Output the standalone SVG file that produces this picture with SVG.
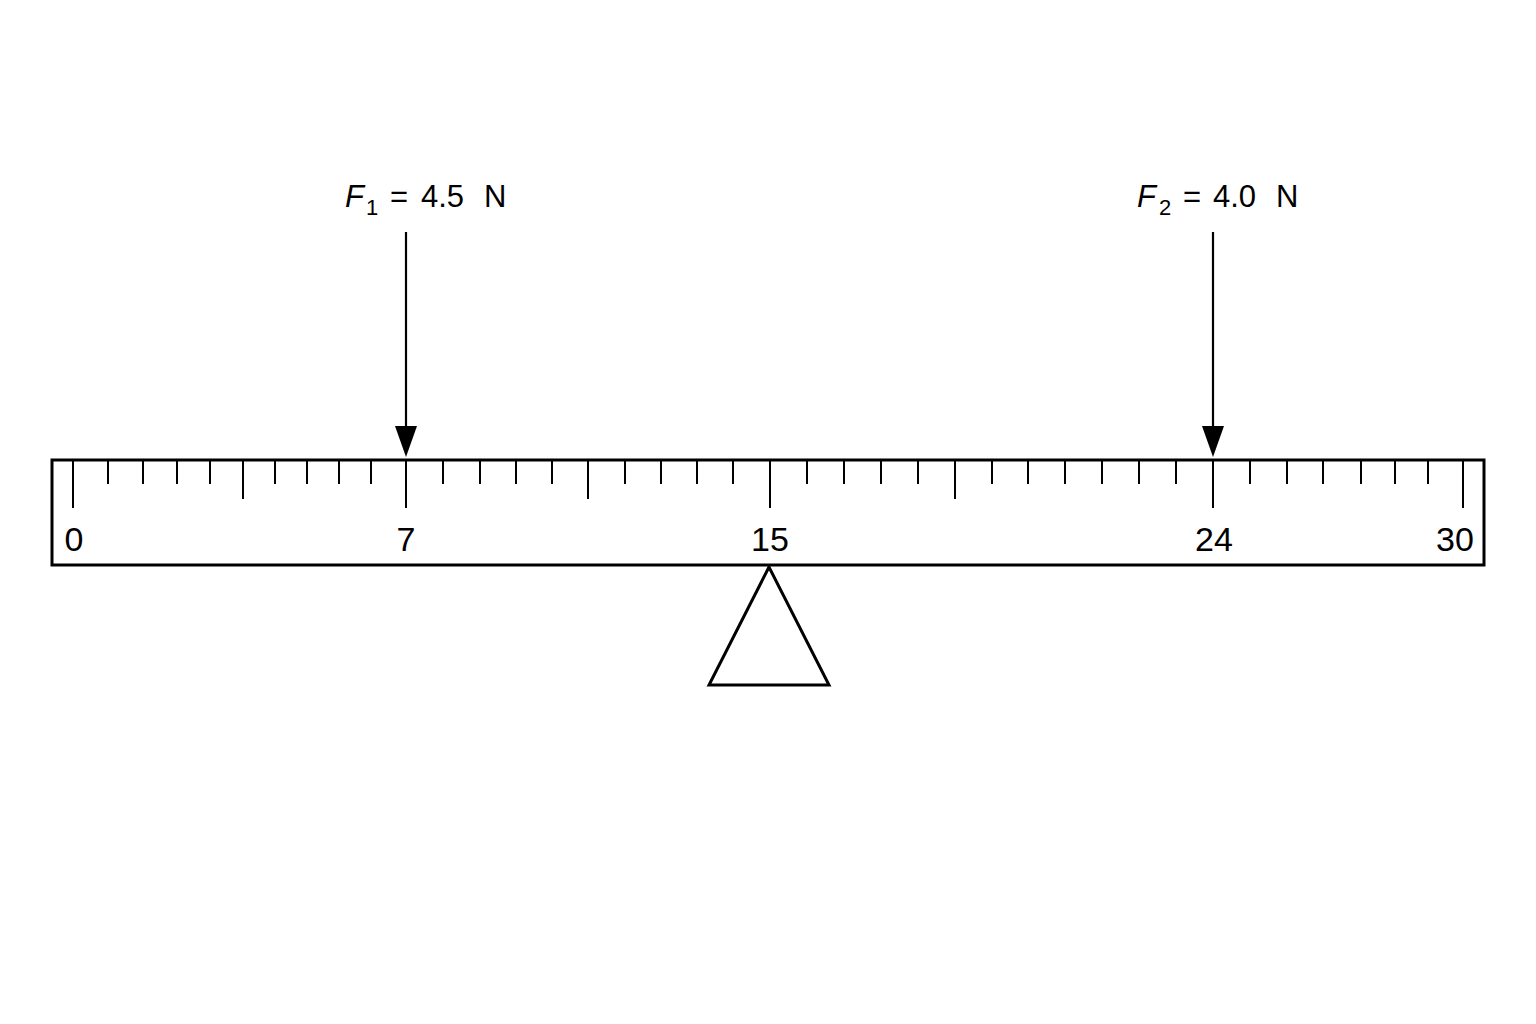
<svg xmlns="http://www.w3.org/2000/svg" width="1536" height="1024" viewBox="0 0 1536 1024">
<style>
.bg{fill:#ffffff}
.frame{fill:none;stroke:#000;stroke-width:3}
.tick{stroke:#000;stroke-width:2}
.shaft{stroke:#000;stroke-width:2.2;fill:none}
.num{font-family:"Liberation Sans",Arial,sans-serif;font-size:34px;fill:#000;text-anchor:middle}
.lbl{font-family:"Liberation Sans",Arial,sans-serif;font-size:31px;fill:#000}
.sub{font-size:22px}
</style>
<defs>
<marker id="ah" viewBox="0 0 31 22" refX="0" refY="11" markerWidth="31" markerHeight="22" markerUnits="userSpaceOnUse" orient="auto">
<path d="M0,0 L31,11 L0,22 z" fill="#000"/>
</marker>
</defs>
<rect class="bg" x="0" y="0" width="1536" height="1024"/>
<g id="ruler">
<rect class="frame" x="52" y="460" width="1432" height="105"/>
<g id="ticks">
<path class="tick" d="M73,460V508 M108,460V484 M143,460V484 M177,460V484 M210,460V484 M243,460V499 M275,460V484 M307,460V484 M339,460V484 M371,460V484 M406,460V508 M443,460V484 M480,460V484 M516,460V484 M552,460V484 M588,460V499 M625,460V484 M661,460V484 M697,460V484 M733,460V484 M770,460V508 M807,460V484 M844,460V484 M881,460V484 M918,460V484 M955,460V499 M992,460V484 M1028,460V484 M1065,460V484 M1102,460V484 M1139,460V484 M1176,460V484 M1213,460V508 M1250,460V484 M1287,460V484 M1323,460V484 M1361,460V484 M1395,460V484 M1428,460V484 M1463,460V508"/>
</g>
<text class="num" x="74" y="551">0</text>
<text class="num" x="406" y="551">7</text>
<text class="num" x="770" y="551">15</text>
<text class="num" x="1214" y="551">24</text>
<text class="num" x="1455" y="551">30</text>
</g>
<g id="fulcrum">
<polygon class="frame" points="769,567 709,685 829,685"/>
</g>
<g id="label-f1">
<text class="lbl" y="207"><tspan x="345" font-style="italic">F</tspan><tspan class="sub" x="366" y="215">1</tspan><tspan x="390" y="207">=</tspan><tspan x="421" y="207">4.5</tspan><tspan x="484" y="207">N</tspan></text>
</g>
<g id="label-f2">
<text class="lbl" y="207"><tspan x="1137" font-style="italic">F</tspan><tspan class="sub" x="1159" y="215">2</tspan><tspan x="1183" y="207">=</tspan><tspan x="1213" y="207">4.0</tspan><tspan x="1276" y="207">N</tspan></text>
</g>
<g id="connectors">
<line class="shaft" x1="406" y1="232" x2="406" y2="426" marker-end="url(#ah)"/>
<line class="shaft" x1="1213" y1="232" x2="1213" y2="426" marker-end="url(#ah)"/>
</g>
</svg>
